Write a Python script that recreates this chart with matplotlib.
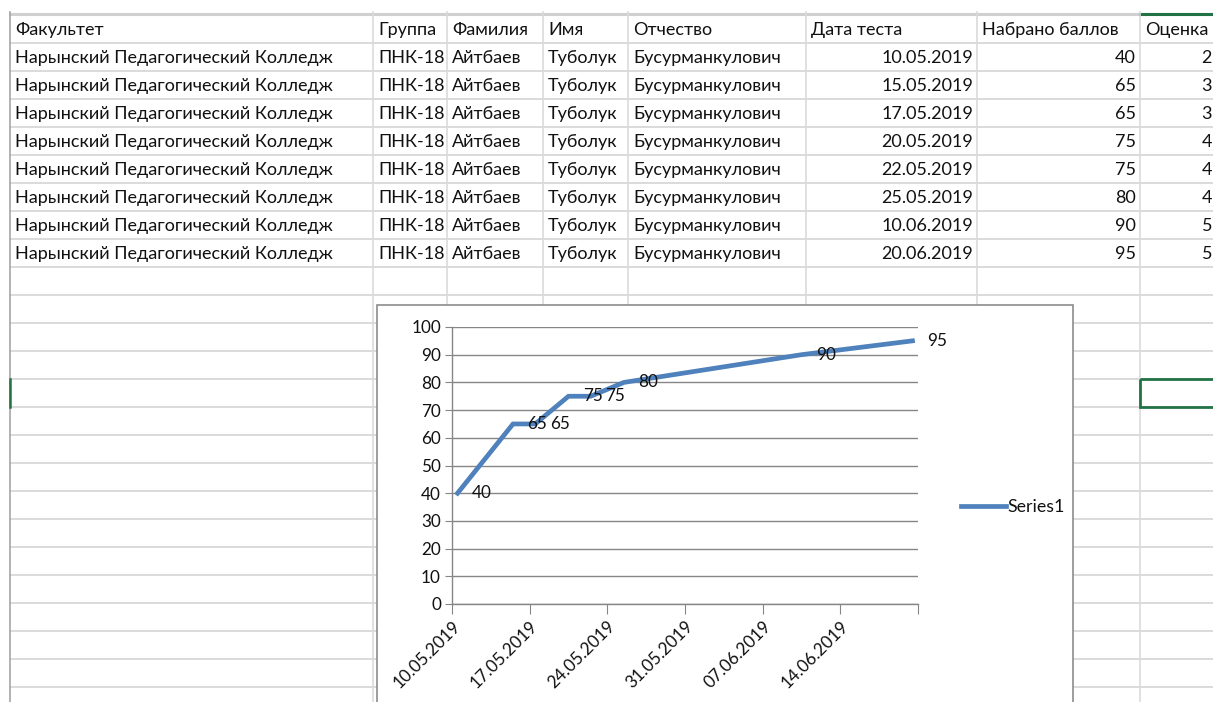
import matplotlib
matplotlib.use("Agg")
import matplotlib.pyplot as plt
import matplotlib.dates as mdates
from matplotlib.patches import Rectangle
import pandas as pd

plt.rcParams['font.family'] = ['Lato', 'DejaVu Sans']

# ---------------- data ----------------
headers = ["Факультет", "Группа", "Фамилия", "Имя", "Отчество", "Дата теста", "Набрано баллов", "Оценка"]
faculty = ["Нарынский Педагогический Колледж"] * 8
group = ["ПНК-18"] * 8
surname = ["Айтбаев"] * 8
first_name = ["Туболук"] * 8
patronymic = ["Бусурманкулович"] * 8
test_dates = ["10.05.2019", "15.05.2019", "17.05.2019", "20.05.2019",
              "22.05.2019", "25.05.2019", "10.06.2019", "20.06.2019"]
scores = [40, 65, 65, 75, 75, 80, 90, 95]
grades = [2, 3, 3, 4, 4, 4, 5, 5]
series_name = "Series1"
x_tick_labels = ["10.05.2019", "17.05.2019", "24.05.2019", "31.05.2019", "07.06.2019", "14.06.2019", ""]
y_ticks = [0, 10, 20, 30, 40, 50, 60, 70, 80, 90, 100]

# ---------------- figure ----------------
W, H = 1213, 702
fig = plt.figure(figsize=(W / 100, H / 100), dpi=100)
bg = fig.add_axes([0, 0, 1, 1])
bg.set_xlim(0, W)
bg.set_ylim(H, 0)
bg.axis('off')

grid_c = '#dadada'
row_top = 15
row_h = 28
col_x = [10, 373, 447, 543, 628, 806, 977, 1140]

# horizontal grid lines
y = row_top + row_h
while y < H:
    bg.plot([10, W], [y, y], color=grid_c, lw=1.4, solid_capstyle='butt')
    y += row_h
# header top line
bg.plot([10, W], [row_top - 1, row_top - 1], color='#d0d0d0', lw=2.2)
bg.plot([1140, W], [row_top - 1, row_top - 1], color='#217346', lw=2.2)
# vertical grid lines
for cx in col_x[1:]:
    bg.plot([cx, cx], [row_top - 3, H], color=grid_c, lw=1.2)
bg.plot([10, 10], [row_top - 3, H], color='#a6a6a6', lw=1.2)
# selected row marker + selected cell
sel_top = row_top + row_h * 13
bg.plot([10, 10], [sel_top, sel_top + row_h], color='#217346', lw=1.8)
bg.add_patch(Rectangle((1140, sel_top), 80, row_h, fill=False, ec='#217346', lw=2, zorder=6))

fs_tab = 13.0
tc = '#111111'
pad = 5
def cell_text(col, row, s, right=False):
    yc = row_top + row_h * row + row_h / 2 + 1
    if right:
        x = col_x[col + 1] - 4 if col + 1 < len(col_x) else 1212
        bg.text(x, yc, s, ha='right', va='center', fontsize=fs_tab, color=tc, clip_on=True)
    else:
        bg.text(col_x[col] + pad, yc, s, ha='left', va='center', fontsize=fs_tab, color=tc, clip_on=True)

for i, h in enumerate(headers):
    cell_text(i, 0, h)
for r in range(len(scores)):
    cell_text(0, r + 1, faculty[r])
    cell_text(1, r + 1, group[r])
    cell_text(2, r + 1, surname[r])
    cell_text(3, r + 1, first_name[r])
    cell_text(4, r + 1, patronymic[r])
    cell_text(5, r + 1, test_dates[r], right=True)
    cell_text(6, r + 1, str(scores[r]), right=True)
    cell_text(7, r + 1, str(grades[r]), right=True)

# chart frame
bg.add_patch(Rectangle((377, 305), 696, 420, facecolor='white', edgecolor='#8c8c8c', lw=1.2, zorder=5))

# ---------------- chart ----------------
L, R, T, B = 452, 918, 327, 604
ax = fig.add_axes([L / W, 1 - B / H, (R - L) / W, (B - T) / H])
ax.set_facecolor('none')

dates = pd.to_datetime(test_dates, format="%d.%m.%Y")
xpos = mdates.date2num(dates) + 0.5   # Excel centres each day in its slot
start = dates.min()
tick_dates = pd.date_range(start, periods=len(x_tick_labels), freq='7D')
tick_pos = mdates.date2num(tick_dates)

fs_ch = 12.3
line_c = '#4f81bd'
ax.plot(xpos, scores, color=line_c, lw=3.4, solid_joinstyle='miter', label=series_name, zorder=3)
for xp, v in zip(xpos, scores):
    ax.annotate(str(v), (xp, v), xytext=(10.5, 0), textcoords='offset points',
                ha='left', va='center', fontsize=fs_ch, color='#111111', zorder=4)

ax.set_xlim(tick_pos[0], tick_pos[-1])
ax.set_ylim(0, 100)
ax.set_yticks(y_ticks)
ax.set_xticks(tick_pos)
ax.set_xticklabels(x_tick_labels, rotation=45, ha='right', rotation_mode='anchor')
ax.yaxis.grid(True, color='#868686', lw=1)
ax.set_axisbelow(True)
for s in ['top', 'right']:
    ax.spines[s].set_visible(False)
for s in ['left', 'bottom']:
    ax.spines[s].set_color('#868686')
    ax.spines[s].set_linewidth(1)
ax.tick_params(axis='y', length=5, color='#868686', labelsize=fs_ch, labelcolor='#111111', pad=3)
ax.tick_params(axis='x', length=7, color='#868686', labelsize=fs_ch, labelcolor='#111111', pad=3)

leg = ax.legend(loc='center left', bbox_to_anchor=(954 / W, 1 - 507 / H), bbox_transform=fig.transFigure,
                frameon=False, fontsize=fs_ch + 0.5, handlelength=2.5, handletextpad=0.1, borderaxespad=0)
for t in leg.get_texts():
    t.set_color('#111111')

fig.savefig('out.png', dpi=100)
